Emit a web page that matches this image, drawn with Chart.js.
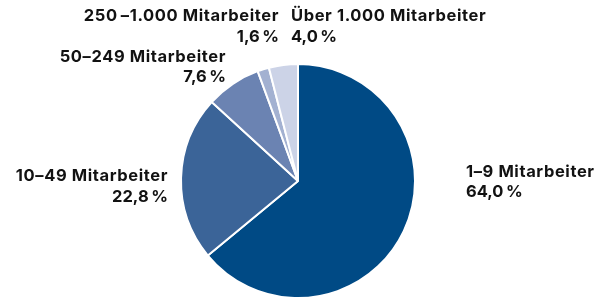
<!DOCTYPE html>
<html>
<head>
<meta charset="utf-8">
<script src="https://cdn.jsdelivr.net/npm/chart.js@4"></script>
<style>
html,body{margin:0;padding:0;background:#fff;}
#wrap{width:611px;height:300px;position:relative;}
</style>
</head>
<body>
<div id="wrap"><canvas id="c" width="611" height="300"></canvas></div>
<script>
const categories = ["1–9 Mitarbeiter","10–49 Mitarbeiter","50–249 Mitarbeiter","250\u2009–1.000 Mitarbeiter","Über 1.000 Mitarbeiter"];
const values = [64.0, 22.8, 7.6, 1.6, 4.0];
const valueLabels = ["64,0\u202F%","22,8\u202F%","7,6\u202F%","1,6\u202F%","4,0\u202F%"];
const colors = ["#004a85","#3b6498","#6b83b2","#a3b1d1","#ccd3e7"];

// label placement: [x, baseline1, baseline2, align]
const labelPos = [
  [466, 177, 197, "left"],
  [168, 181, 202, "right"],
  [226, 62, 82, "right"],
  [279, 21, 42, "right"],
  [291, 21, 42, "left"]
];

const labelPlugin = {
  id: 'labels',
  afterDraw(chart){
    const ctx = chart.ctx;
    ctx.save();
    ctx.fillStyle = "#121212";
    ctx.font = "bold 16.5px Inter";
    try { ctx.letterSpacing = "0.6px"; } catch(e) {}
    ctx.textBaseline = "alphabetic";
    categories.forEach((c,i)=>{
      const p = labelPos[i];
      ctx.textAlign = p[3];
      ctx.fillText(c, p[0], p[1]);
      ctx.fillText(valueLabels[i], p[0], p[2]);
    });
    ctx.restore();
  }
};

new Chart(document.getElementById('c'), {
  type: 'pie',
  data: {
    labels: categories,
    datasets: [{
      data: values,
      backgroundColor: colors,
      borderColor: "#ffffff",
      borderWidth: 2
    }]
  },
  options: {
    responsive: false,
    animation: false,
    layout: { padding: { left: 180, right: 195, top: 62, bottom: 0 } },
    plugins: { legend: { display: false }, tooltip: { enabled: false } }
  },
  plugins: [labelPlugin]
});
</script>
</body>
</html>
